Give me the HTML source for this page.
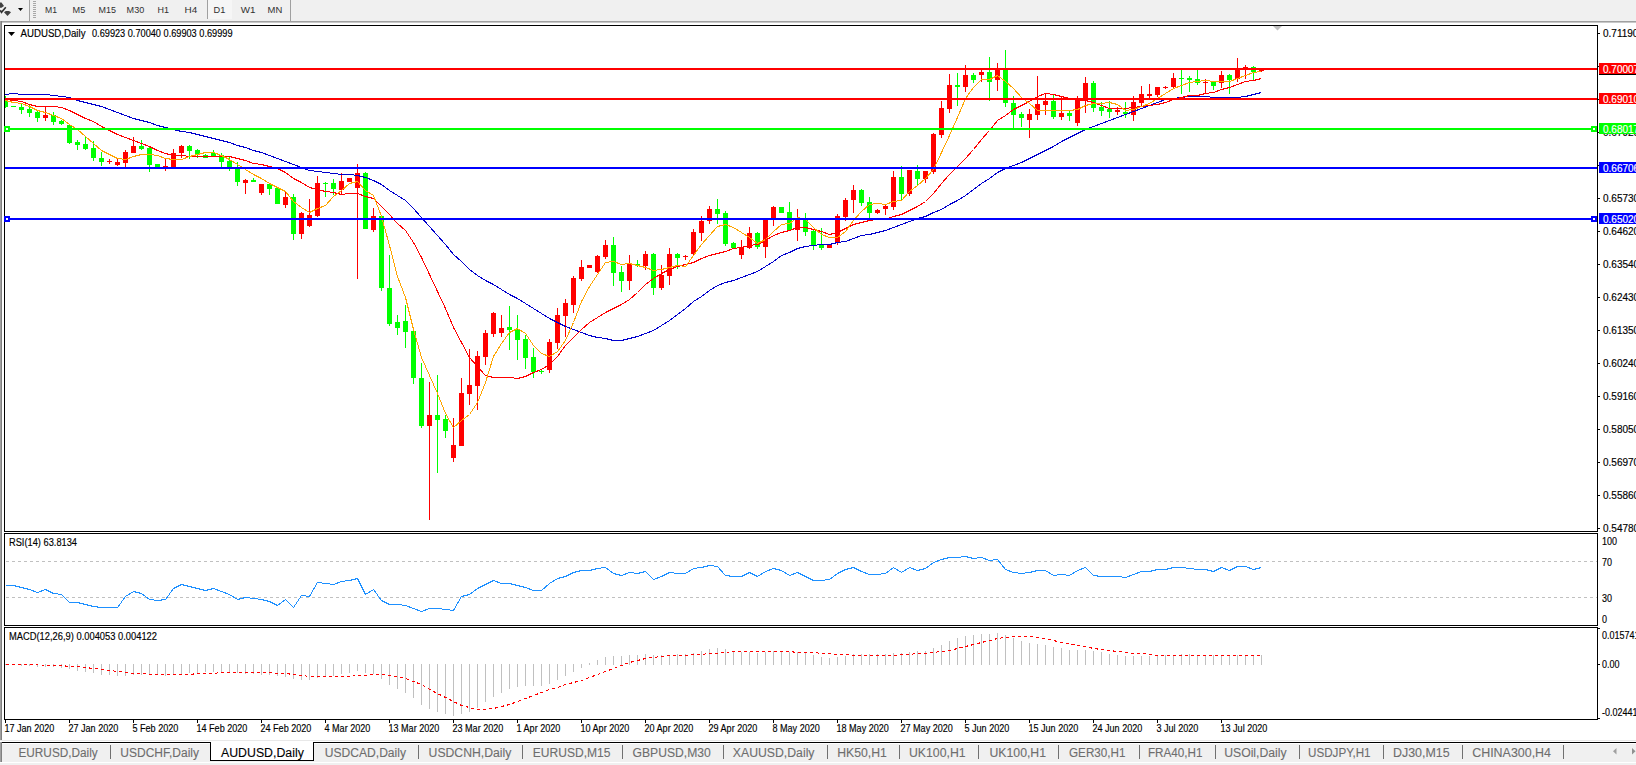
<!DOCTYPE html>
<html><head><meta charset="utf-8"><title>AUDUSD,Daily</title>
<style>html,body{margin:0;padding:0;width:1636px;height:765px;overflow:hidden;background:#f0f0f0;font-family:"Liberation Sans",sans-serif}</style>
</head><body>
<svg width="1636" height="765" viewBox="0 0 1636 765" style="position:absolute;left:0;top:0" shape-rendering="crispEdges"><rect x="0" y="0" width="1636" height="21" fill="#f0f0f0"/><rect x="0" y="21" width="1636" height="1" fill="#a0a0a0"/><rect x="0" y="22" width="1636" height="1" fill="#c8c8c8"/><path d="M0 2.5 L1.5 2.5 L4 6 L1.5 7.7 L0 7.7 Z" fill="#404040" shape-rendering="geometricPrecision"/><path d="M0.2 10.3 L1.5 12.3 L5.8 7.3" fill="none" stroke="#303030" stroke-width="1.6" shape-rendering="geometricPrecision"/><path d="M4 12.3 L5.8 11 L9 11 L11 12.3 L7.5 16 Z" fill="#404040" shape-rendering="geometricPrecision"/><path d="M18 8 L23 8 L20.5 11 Z" fill="#000" shape-rendering="geometricPrecision"/><rect x="29" y="0" width="1" height="21" fill="#a0a0a0"/><rect x="33" y="1" width="3" height="1" fill="#a8a8a8"/><rect x="33" y="3" width="3" height="1" fill="#a8a8a8"/><rect x="33" y="5" width="3" height="1" fill="#a8a8a8"/><rect x="33" y="7" width="3" height="1" fill="#a8a8a8"/><rect x="33" y="9" width="3" height="1" fill="#a8a8a8"/><rect x="33" y="11" width="3" height="1" fill="#a8a8a8"/><rect x="33" y="13" width="3" height="1" fill="#a8a8a8"/><rect x="33" y="15" width="3" height="1" fill="#a8a8a8"/><rect x="33" y="17" width="3" height="1" fill="#a8a8a8"/><rect x="207" y="0" width="1" height="19" fill="#a0a0a0"/><rect x="208" y="0" width="24" height="19" fill="#f6f6f6"/><rect x="290" y="0" width="1" height="21" fill="#a0a0a0"/><text x="45" y="12.9" font-family="'Liberation Sans', sans-serif" font-size="9.5" fill="#303030" textLength="12.0" lengthAdjust="spacingAndGlyphs" shape-rendering="auto">M1</text><text x="72.6" y="12.9" font-family="'Liberation Sans', sans-serif" font-size="9.5" fill="#303030" textLength="12.7" lengthAdjust="spacingAndGlyphs" shape-rendering="auto">M5</text><text x="98.6" y="12.9" font-family="'Liberation Sans', sans-serif" font-size="9.5" fill="#303030" textLength="17.4" lengthAdjust="spacingAndGlyphs" shape-rendering="auto">M15</text><text x="126.6" y="12.9" font-family="'Liberation Sans', sans-serif" font-size="9.5" fill="#303030" textLength="17.6" lengthAdjust="spacingAndGlyphs" shape-rendering="auto">M30</text><text x="157.6" y="12.9" font-family="'Liberation Sans', sans-serif" font-size="9.5" fill="#303030" textLength="11.5" lengthAdjust="spacingAndGlyphs" shape-rendering="auto">H1</text><text x="184.5" y="12.9" font-family="'Liberation Sans', sans-serif" font-size="9.5" fill="#303030" textLength="12.7" lengthAdjust="spacingAndGlyphs" shape-rendering="auto">H4</text><text x="213.5" y="12.9" font-family="'Liberation Sans', sans-serif" font-size="9.5" fill="#303030" textLength="11.8" lengthAdjust="spacingAndGlyphs" shape-rendering="auto">D1</text><text x="240.7" y="12.9" font-family="'Liberation Sans', sans-serif" font-size="9.5" fill="#303030" textLength="14.7" lengthAdjust="spacingAndGlyphs" shape-rendering="auto">W1</text><text x="267.6" y="12.9" font-family="'Liberation Sans', sans-serif" font-size="9.5" fill="#303030" textLength="14.7" lengthAdjust="spacingAndGlyphs" shape-rendering="auto">MN</text><rect x="0" y="23" width="1636" height="718" fill="#ffffff"/><rect x="0" y="21" width="1" height="720" fill="#a0a0a0"/><rect x="1" y="21" width="1" height="720" fill="#808080"/><rect x="4" y="25" width="1594" height="1" fill="#000"/><rect x="4" y="531" width="1594" height="1" fill="#000"/><rect x="4" y="25" width="1" height="507" fill="#000"/><rect x="1597" y="25" width="1" height="507" fill="#000"/><rect x="4" y="533" width="1594" height="1" fill="#000"/><rect x="4" y="625" width="1594" height="1" fill="#000"/><rect x="4" y="533" width="1" height="93" fill="#000"/><rect x="1597" y="533" width="1" height="93" fill="#000"/><rect x="4" y="627" width="1594" height="1" fill="#000"/><rect x="4" y="719" width="1594" height="1" fill="#000"/><rect x="4" y="627" width="1" height="93" fill="#000"/><rect x="1597" y="627" width="1" height="93" fill="#000"/><path d="M1273 26 L1282 26 L1277.5 30.5 Z" fill="#c0c0c0" shape-rendering="geometricPrecision"/><path d="M8 32 L15 32 L11.5 36 Z" fill="#000" shape-rendering="geometricPrecision"/><text x="20.5" y="37.2" font-family="'Liberation Sans', sans-serif" font-size="10" fill="#000" stroke="#000" stroke-width="0.15" textLength="65.0" lengthAdjust="spacingAndGlyphs" shape-rendering="auto">AUDUSD,Daily</text><text x="92" y="37.2" font-family="'Liberation Sans', sans-serif" font-size="10" fill="#000" stroke="#000" stroke-width="0.15" textLength="140.5" lengthAdjust="spacingAndGlyphs" shape-rendering="auto">0.69923 0.70040 0.69903 0.69999</text><defs><clipPath id="cm"><rect x="5" y="26" width="1592" height="505"/></clipPath><clipPath id="cr"><rect x="5" y="534" width="1592" height="91"/></clipPath><clipPath id="cd"><rect x="5" y="628" width="1592" height="91"/></clipPath></defs><g clip-path="url(#cm)"><rect x="5" y="96" width="1" height="12" fill="#00ff00"/><rect x="3" y="100" width="5" height="7" fill="#00ff00"/><rect x="13" y="106" width="1" height="1" fill="#00ff00"/><rect x="11" y="106" width="5" height="1" fill="#00ff00"/><rect x="21" y="103" width="1" height="11" fill="#00ff00"/><rect x="19" y="107" width="5" height="3" fill="#00ff00"/><rect x="29" y="105" width="1" height="12" fill="#00ff00"/><rect x="27" y="109" width="5" height="4" fill="#00ff00"/><rect x="37" y="111" width="1" height="11" fill="#00ff00"/><rect x="35" y="112" width="5" height="6" fill="#00ff00"/><rect x="45" y="106" width="1" height="15" fill="#ff0000"/><rect x="43" y="115" width="5" height="3" fill="#ff0000"/><rect x="53" y="112" width="1" height="13" fill="#00ff00"/><rect x="51" y="115" width="5" height="7" fill="#00ff00"/><rect x="61" y="120" width="1" height="5" fill="#00ff00"/><rect x="59" y="121" width="5" height="3" fill="#00ff00"/><rect x="69" y="125" width="1" height="19" fill="#00ff00"/><rect x="67" y="125" width="5" height="18" fill="#00ff00"/><rect x="77" y="140" width="1" height="10" fill="#00ff00"/><rect x="75" y="142" width="5" height="3" fill="#00ff00"/><rect x="85" y="136" width="1" height="14" fill="#00ff00"/><rect x="83" y="144" width="5" height="5" fill="#00ff00"/><rect x="93" y="141" width="1" height="20" fill="#00ff00"/><rect x="91" y="148" width="5" height="10" fill="#00ff00"/><rect x="101" y="152" width="1" height="14" fill="#00ff00"/><rect x="99" y="158" width="5" height="4" fill="#00ff00"/><rect x="109" y="159" width="1" height="5" fill="#ff0000"/><rect x="107" y="161" width="5" height="1" fill="#ff0000"/><rect x="117" y="158" width="1" height="8" fill="#ff0000"/><rect x="115" y="162" width="5" height="3" fill="#ff0000"/><rect x="125" y="150" width="1" height="17" fill="#ff0000"/><rect x="123" y="152" width="5" height="11" fill="#ff0000"/><rect x="133" y="137" width="1" height="16" fill="#ff0000"/><rect x="131" y="146" width="5" height="7" fill="#ff0000"/><rect x="141" y="140" width="1" height="10" fill="#00ff00"/><rect x="139" y="146" width="5" height="3" fill="#00ff00"/><rect x="149" y="147" width="1" height="25" fill="#00ff00"/><rect x="147" y="148" width="5" height="17" fill="#00ff00"/><rect x="157" y="164" width="1" height="4" fill="#00ff00"/><rect x="155" y="164" width="5" height="3" fill="#00ff00"/><rect x="165" y="159" width="1" height="12" fill="#ff0000"/><rect x="163" y="166" width="5" height="1" fill="#ff0000"/><rect x="173" y="149" width="1" height="18" fill="#ff0000"/><rect x="171" y="153" width="5" height="14" fill="#ff0000"/><rect x="181" y="145" width="1" height="13" fill="#ff0000"/><rect x="179" y="146" width="5" height="7" fill="#ff0000"/><rect x="189" y="145" width="1" height="14" fill="#00ff00"/><rect x="187" y="146" width="5" height="5" fill="#00ff00"/><rect x="197" y="149" width="1" height="9" fill="#00ff00"/><rect x="195" y="150" width="5" height="5" fill="#00ff00"/><rect x="205" y="154" width="1" height="4" fill="#00ff00"/><rect x="203" y="155" width="5" height="3" fill="#00ff00"/><rect x="213" y="150" width="1" height="6" fill="#00ff00"/><rect x="211" y="153" width="5" height="3" fill="#00ff00"/><rect x="221" y="153" width="1" height="14" fill="#00ff00"/><rect x="219" y="155" width="5" height="7" fill="#00ff00"/><rect x="229" y="157" width="1" height="14" fill="#00ff00"/><rect x="227" y="161" width="5" height="6" fill="#00ff00"/><rect x="237" y="162" width="1" height="24" fill="#00ff00"/><rect x="235" y="168" width="5" height="14" fill="#00ff00"/><rect x="245" y="179" width="1" height="15" fill="#ff0000"/><rect x="243" y="180" width="5" height="3" fill="#ff0000"/><rect x="253" y="178" width="1" height="4" fill="#00ff00"/><rect x="251" y="180" width="5" height="2" fill="#00ff00"/><rect x="261" y="184" width="1" height="11" fill="#ff0000"/><rect x="259" y="184" width="5" height="9" fill="#ff0000"/><rect x="269" y="184" width="1" height="11" fill="#00ff00"/><rect x="267" y="184" width="5" height="5" fill="#00ff00"/><rect x="277" y="188" width="1" height="16" fill="#00ff00"/><rect x="275" y="188" width="5" height="16" fill="#00ff00"/><rect x="285" y="192" width="1" height="16" fill="#ff0000"/><rect x="283" y="197" width="5" height="8" fill="#ff0000"/><rect x="293" y="194" width="1" height="46" fill="#00ff00"/><rect x="291" y="197" width="5" height="37" fill="#00ff00"/><rect x="301" y="212" width="1" height="27" fill="#ff0000"/><rect x="299" y="213" width="5" height="21" fill="#ff0000"/><rect x="309" y="199" width="1" height="28" fill="#ff0000"/><rect x="307" y="215" width="5" height="11" fill="#ff0000"/><rect x="317" y="176" width="1" height="41" fill="#ff0000"/><rect x="315" y="183" width="5" height="33" fill="#ff0000"/><rect x="325" y="182" width="1" height="15" fill="#00ff00"/><rect x="323" y="183" width="5" height="1" fill="#00ff00"/><rect x="333" y="179" width="1" height="16" fill="#00ff00"/><rect x="331" y="183" width="5" height="6" fill="#00ff00"/><rect x="341" y="173" width="1" height="21" fill="#ff0000"/><rect x="339" y="181" width="5" height="9" fill="#ff0000"/><rect x="349" y="178" width="1" height="4" fill="#ff0000"/><rect x="347" y="178" width="5" height="4" fill="#ff0000"/><rect x="357" y="164" width="1" height="115" fill="#ff0000"/><rect x="355" y="173" width="5" height="15" fill="#ff0000"/><rect x="365" y="172" width="1" height="57" fill="#00ff00"/><rect x="363" y="173" width="5" height="56" fill="#00ff00"/><rect x="373" y="208" width="1" height="24" fill="#ff0000"/><rect x="371" y="216" width="5" height="14" fill="#ff0000"/><rect x="381" y="216" width="1" height="75" fill="#00ff00"/><rect x="379" y="216" width="5" height="72" fill="#00ff00"/><rect x="389" y="255" width="1" height="71" fill="#00ff00"/><rect x="387" y="288" width="5" height="36" fill="#00ff00"/><rect x="397" y="315" width="1" height="20" fill="#00ff00"/><rect x="395" y="322" width="5" height="6" fill="#00ff00"/><rect x="405" y="305" width="1" height="43" fill="#00ff00"/><rect x="403" y="321" width="5" height="11" fill="#00ff00"/><rect x="413" y="327" width="1" height="57" fill="#00ff00"/><rect x="411" y="331" width="5" height="47" fill="#00ff00"/><rect x="421" y="363" width="1" height="65" fill="#00ff00"/><rect x="419" y="378" width="5" height="48" fill="#00ff00"/><rect x="429" y="382" width="1" height="138" fill="#ff0000"/><rect x="427" y="415" width="5" height="11" fill="#ff0000"/><rect x="437" y="375" width="1" height="98" fill="#00ff00"/><rect x="435" y="415" width="5" height="5" fill="#00ff00"/><rect x="445" y="415" width="1" height="23" fill="#00ff00"/><rect x="443" y="419" width="5" height="12" fill="#00ff00"/><rect x="453" y="418" width="1" height="44" fill="#ff0000"/><rect x="451" y="445" width="5" height="13" fill="#ff0000"/><rect x="461" y="378" width="1" height="68" fill="#ff0000"/><rect x="459" y="393" width="5" height="53" fill="#ff0000"/><rect x="469" y="349" width="1" height="56" fill="#ff0000"/><rect x="467" y="385" width="5" height="9" fill="#ff0000"/><rect x="477" y="351" width="1" height="59" fill="#ff0000"/><rect x="475" y="356" width="5" height="30" fill="#ff0000"/><rect x="485" y="330" width="1" height="35" fill="#ff0000"/><rect x="483" y="333" width="5" height="24" fill="#ff0000"/><rect x="493" y="312" width="1" height="25" fill="#ff0000"/><rect x="491" y="313" width="5" height="21" fill="#ff0000"/><rect x="501" y="315" width="1" height="22" fill="#ff0000"/><rect x="499" y="328" width="5" height="5" fill="#ff0000"/><rect x="509" y="306" width="1" height="44" fill="#00ff00"/><rect x="507" y="327" width="5" height="3" fill="#00ff00"/><rect x="517" y="315" width="1" height="45" fill="#00ff00"/><rect x="515" y="330" width="5" height="10" fill="#00ff00"/><rect x="525" y="335" width="1" height="34" fill="#00ff00"/><rect x="523" y="339" width="5" height="19" fill="#00ff00"/><rect x="533" y="348" width="1" height="30" fill="#00ff00"/><rect x="531" y="357" width="5" height="15" fill="#00ff00"/><rect x="541" y="370" width="1" height="4" fill="#00ff00"/><rect x="539" y="371" width="5" height="1" fill="#00ff00"/><rect x="549" y="339" width="1" height="34" fill="#ff0000"/><rect x="547" y="342" width="5" height="28" fill="#ff0000"/><rect x="557" y="308" width="1" height="41" fill="#ff0000"/><rect x="555" y="315" width="5" height="28" fill="#ff0000"/><rect x="565" y="299" width="1" height="38" fill="#ff0000"/><rect x="563" y="303" width="5" height="13" fill="#ff0000"/><rect x="573" y="276" width="1" height="37" fill="#ff0000"/><rect x="571" y="278" width="5" height="27" fill="#ff0000"/><rect x="581" y="260" width="1" height="21" fill="#ff0000"/><rect x="579" y="267" width="5" height="12" fill="#ff0000"/><rect x="589" y="265" width="1" height="3" fill="#ff0000"/><rect x="587" y="265" width="5" height="3" fill="#ff0000"/><rect x="597" y="255" width="1" height="18" fill="#ff0000"/><rect x="595" y="256" width="5" height="16" fill="#ff0000"/><rect x="605" y="240" width="1" height="19" fill="#ff0000"/><rect x="603" y="245" width="5" height="12" fill="#ff0000"/><rect x="613" y="237" width="1" height="49" fill="#00ff00"/><rect x="611" y="245" width="5" height="28" fill="#00ff00"/><rect x="621" y="266" width="1" height="26" fill="#00ff00"/><rect x="619" y="272" width="5" height="9" fill="#00ff00"/><rect x="629" y="255" width="1" height="35" fill="#ff0000"/><rect x="627" y="264" width="5" height="17" fill="#ff0000"/><rect x="637" y="260" width="1" height="7" fill="#00ff00"/><rect x="635" y="264" width="5" height="1" fill="#00ff00"/><rect x="645" y="251" width="1" height="19" fill="#ff0000"/><rect x="643" y="254" width="5" height="12" fill="#ff0000"/><rect x="653" y="253" width="1" height="42" fill="#00ff00"/><rect x="651" y="254" width="5" height="34" fill="#00ff00"/><rect x="661" y="265" width="1" height="25" fill="#ff0000"/><rect x="659" y="275" width="5" height="13" fill="#ff0000"/><rect x="669" y="248" width="1" height="37" fill="#ff0000"/><rect x="667" y="254" width="5" height="22" fill="#ff0000"/><rect x="677" y="253" width="1" height="16" fill="#00ff00"/><rect x="675" y="254" width="5" height="4" fill="#00ff00"/><rect x="685" y="255" width="1" height="5" fill="#ff0000"/><rect x="683" y="256" width="5" height="1" fill="#ff0000"/><rect x="693" y="229" width="1" height="26" fill="#ff0000"/><rect x="691" y="232" width="5" height="22" fill="#ff0000"/><rect x="701" y="216" width="1" height="25" fill="#ff0000"/><rect x="699" y="221" width="5" height="12" fill="#ff0000"/><rect x="709" y="206" width="1" height="18" fill="#ff0000"/><rect x="707" y="209" width="5" height="12" fill="#ff0000"/><rect x="717" y="199" width="1" height="25" fill="#00ff00"/><rect x="715" y="209" width="5" height="5" fill="#00ff00"/><rect x="725" y="211" width="1" height="35" fill="#00ff00"/><rect x="723" y="213" width="5" height="31" fill="#00ff00"/><rect x="733" y="242" width="1" height="6" fill="#00ff00"/><rect x="731" y="243" width="5" height="5" fill="#00ff00"/><rect x="741" y="240" width="1" height="19" fill="#ff0000"/><rect x="739" y="247" width="5" height="8" fill="#ff0000"/><rect x="749" y="227" width="1" height="22" fill="#ff0000"/><rect x="747" y="233" width="5" height="15" fill="#ff0000"/><rect x="757" y="232" width="1" height="17" fill="#00ff00"/><rect x="755" y="233" width="5" height="14" fill="#00ff00"/><rect x="765" y="219" width="1" height="39" fill="#ff0000"/><rect x="763" y="220" width="5" height="27" fill="#ff0000"/><rect x="773" y="206" width="1" height="20" fill="#ff0000"/><rect x="771" y="207" width="5" height="13" fill="#ff0000"/><rect x="781" y="207" width="1" height="6" fill="#00ff00"/><rect x="779" y="207" width="5" height="6" fill="#00ff00"/><rect x="789" y="202" width="1" height="29" fill="#00ff00"/><rect x="787" y="212" width="5" height="18" fill="#00ff00"/><rect x="797" y="209" width="1" height="32" fill="#ff0000"/><rect x="795" y="218" width="5" height="12" fill="#ff0000"/><rect x="805" y="213" width="1" height="23" fill="#00ff00"/><rect x="803" y="220" width="5" height="12" fill="#00ff00"/><rect x="813" y="229" width="1" height="21" fill="#00ff00"/><rect x="811" y="231" width="5" height="15" fill="#00ff00"/><rect x="821" y="228" width="1" height="22" fill="#00ff00"/><rect x="819" y="244" width="5" height="4" fill="#00ff00"/><rect x="829" y="245" width="1" height="3" fill="#ff0000"/><rect x="827" y="245" width="5" height="3" fill="#ff0000"/><rect x="837" y="214" width="1" height="31" fill="#ff0000"/><rect x="835" y="216" width="5" height="27" fill="#ff0000"/><rect x="845" y="198" width="1" height="23" fill="#ff0000"/><rect x="843" y="200" width="5" height="17" fill="#ff0000"/><rect x="853" y="185" width="1" height="28" fill="#ff0000"/><rect x="851" y="190" width="5" height="10" fill="#ff0000"/><rect x="861" y="189" width="1" height="17" fill="#00ff00"/><rect x="859" y="190" width="5" height="13" fill="#00ff00"/><rect x="869" y="197" width="1" height="21" fill="#00ff00"/><rect x="867" y="202" width="5" height="11" fill="#00ff00"/><rect x="877" y="209" width="1" height="5" fill="#ff0000"/><rect x="875" y="210" width="5" height="3" fill="#ff0000"/><rect x="885" y="205" width="1" height="10" fill="#ff0000"/><rect x="883" y="206" width="5" height="3" fill="#ff0000"/><rect x="893" y="171" width="1" height="39" fill="#ff0000"/><rect x="891" y="177" width="5" height="30" fill="#ff0000"/><rect x="901" y="166" width="1" height="34" fill="#00ff00"/><rect x="899" y="177" width="5" height="17" fill="#00ff00"/><rect x="909" y="170" width="1" height="26" fill="#ff0000"/><rect x="907" y="170" width="5" height="24" fill="#ff0000"/><rect x="917" y="165" width="1" height="20" fill="#00ff00"/><rect x="915" y="171" width="5" height="8" fill="#00ff00"/><rect x="925" y="171" width="1" height="12" fill="#ff0000"/><rect x="923" y="171" width="5" height="8" fill="#ff0000"/><rect x="933" y="133" width="1" height="41" fill="#ff0000"/><rect x="931" y="134" width="5" height="38" fill="#ff0000"/><rect x="941" y="101" width="1" height="37" fill="#ff0000"/><rect x="939" y="108" width="5" height="27" fill="#ff0000"/><rect x="949" y="74" width="1" height="39" fill="#ff0000"/><rect x="947" y="85" width="5" height="24" fill="#ff0000"/><rect x="957" y="73" width="1" height="33" fill="#00ff00"/><rect x="955" y="85" width="5" height="2" fill="#00ff00"/><rect x="965" y="65" width="1" height="27" fill="#ff0000"/><rect x="963" y="75" width="5" height="12" fill="#ff0000"/><rect x="973" y="73" width="1" height="10" fill="#00ff00"/><rect x="971" y="75" width="5" height="5" fill="#00ff00"/><rect x="981" y="70" width="1" height="12" fill="#ff0000"/><rect x="979" y="72" width="5" height="3" fill="#ff0000"/><rect x="989" y="57" width="1" height="44" fill="#00ff00"/><rect x="987" y="72" width="5" height="10" fill="#00ff00"/><rect x="997" y="63" width="1" height="28" fill="#ff0000"/><rect x="995" y="70" width="5" height="10" fill="#ff0000"/><rect x="1005" y="50" width="1" height="57" fill="#00ff00"/><rect x="1003" y="70" width="5" height="33" fill="#00ff00"/><rect x="1013" y="96" width="1" height="34" fill="#00ff00"/><rect x="1011" y="103" width="5" height="12" fill="#00ff00"/><rect x="1021" y="112" width="1" height="15" fill="#00ff00"/><rect x="1019" y="114" width="5" height="4" fill="#00ff00"/><rect x="1029" y="109" width="1" height="29" fill="#ff0000"/><rect x="1027" y="114" width="5" height="6" fill="#ff0000"/><rect x="1037" y="76" width="1" height="44" fill="#ff0000"/><rect x="1035" y="104" width="5" height="11" fill="#ff0000"/><rect x="1045" y="94" width="1" height="21" fill="#ff0000"/><rect x="1043" y="101" width="5" height="4" fill="#ff0000"/><rect x="1053" y="95" width="1" height="24" fill="#00ff00"/><rect x="1051" y="101" width="5" height="16" fill="#00ff00"/><rect x="1061" y="97" width="1" height="23" fill="#ff0000"/><rect x="1059" y="113" width="5" height="4" fill="#ff0000"/><rect x="1069" y="111" width="1" height="10" fill="#00ff00"/><rect x="1067" y="113" width="5" height="3" fill="#00ff00"/><rect x="1077" y="96" width="1" height="30" fill="#ff0000"/><rect x="1075" y="98" width="5" height="25" fill="#ff0000"/><rect x="1085" y="77" width="1" height="36" fill="#ff0000"/><rect x="1083" y="83" width="5" height="17" fill="#ff0000"/><rect x="1093" y="81" width="1" height="31" fill="#00ff00"/><rect x="1091" y="83" width="5" height="25" fill="#00ff00"/><rect x="1101" y="102" width="1" height="14" fill="#00ff00"/><rect x="1099" y="107" width="5" height="4" fill="#00ff00"/><rect x="1109" y="101" width="1" height="17" fill="#00ff00"/><rect x="1107" y="109" width="5" height="3" fill="#00ff00"/><rect x="1117" y="107" width="1" height="8" fill="#ff0000"/><rect x="1115" y="110" width="5" height="2" fill="#ff0000"/><rect x="1125" y="102" width="1" height="16" fill="#00ff00"/><rect x="1123" y="112" width="5" height="2" fill="#00ff00"/><rect x="1133" y="96" width="1" height="25" fill="#ff0000"/><rect x="1131" y="102" width="5" height="13" fill="#ff0000"/><rect x="1141" y="86" width="1" height="20" fill="#ff0000"/><rect x="1139" y="94" width="5" height="9" fill="#ff0000"/><rect x="1149" y="84" width="1" height="14" fill="#ff0000"/><rect x="1147" y="94" width="5" height="2" fill="#ff0000"/><rect x="1157" y="87" width="1" height="10" fill="#ff0000"/><rect x="1155" y="87" width="5" height="8" fill="#ff0000"/><rect x="1165" y="86" width="1" height="3" fill="#ff0000"/><rect x="1163" y="87" width="5" height="1" fill="#ff0000"/><rect x="1173" y="73" width="1" height="15" fill="#ff0000"/><rect x="1171" y="78" width="5" height="9" fill="#ff0000"/><rect x="1181" y="70" width="1" height="24" fill="#00ff00"/><rect x="1179" y="78" width="5" height="1" fill="#00ff00"/><rect x="1189" y="76" width="1" height="16" fill="#00ff00"/><rect x="1187" y="78" width="5" height="2" fill="#00ff00"/><rect x="1197" y="70" width="1" height="15" fill="#00ff00"/><rect x="1195" y="79" width="5" height="4" fill="#00ff00"/><rect x="1205" y="79" width="1" height="14" fill="#ff0000"/><rect x="1203" y="82" width="5" height="1" fill="#ff0000"/><rect x="1213" y="81" width="1" height="9" fill="#00ff00"/><rect x="1211" y="82" width="5" height="4" fill="#00ff00"/><rect x="1221" y="71" width="1" height="17" fill="#ff0000"/><rect x="1219" y="75" width="5" height="8" fill="#ff0000"/><rect x="1229" y="74" width="1" height="20" fill="#00ff00"/><rect x="1227" y="75" width="5" height="5" fill="#00ff00"/><rect x="1237" y="58" width="1" height="24" fill="#ff0000"/><rect x="1235" y="70" width="5" height="9" fill="#ff0000"/><rect x="1245" y="65" width="1" height="14" fill="#ff0000"/><rect x="1243" y="67" width="5" height="1" fill="#ff0000"/><rect x="1253" y="66" width="1" height="15" fill="#00ff00"/><rect x="1251" y="67" width="5" height="5" fill="#00ff00"/><rect x="1261" y="68" width="1" height="4" fill="#ff0000"/><rect x="1259" y="69" width="5" height="2" fill="#ff0000"/><polyline points="5.5,94.5 13.5,93.5 21.5,94.5 29.5,94.5 37.5,94.5 45.5,94.5 53.5,95.5 61.5,96.5 69.5,97.5 77.5,100.5 85.5,102.5 93.5,104.5 101.5,106.5 109.5,109.5 117.5,112.5 125.5,115.5 133.5,118.5 141.5,120.5 149.5,122.5 157.5,125.5 165.5,127.5 173.5,129.5 181.5,131.5 189.5,132.5 197.5,134.5 205.5,136.5 213.5,138.5 221.5,140.5 229.5,142.5 237.5,145.5 245.5,147.5 253.5,150.5 261.5,152.5 269.5,155.5 277.5,158.5 285.5,161.5 293.5,164.5 301.5,167.5 309.5,170.5 317.5,171.5 325.5,172.5 333.5,173.5 341.5,174.5 349.5,174.5 357.5,175.5 365.5,177.5 373.5,180.5 381.5,184.5 389.5,190.5 397.5,195.5 405.5,200.5 413.5,208.5 421.5,217.5 429.5,226.5 437.5,235.5 445.5,244.5 453.5,254.5 461.5,261.5 469.5,269.5 477.5,275.5 485.5,280.5 493.5,284.5 501.5,289.5 509.5,294.5 517.5,298.5 525.5,303.5 533.5,308.5 541.5,313.5 549.5,318.5 557.5,322.5 565.5,326.5 573.5,329.5 581.5,332.5 589.5,335.5 597.5,337.5 605.5,338.5 613.5,340.5 621.5,340.5 629.5,338.5 637.5,336.5 645.5,333.5 653.5,330.5 661.5,325.5 669.5,320.5 677.5,314.5 685.5,308.5 693.5,301.5 701.5,296.5 709.5,290.5 717.5,285.5 725.5,282.5 733.5,280.5 741.5,277.5 749.5,274.5 757.5,271.5 765.5,266.5 773.5,261.5 781.5,255.5 789.5,252.5 797.5,248.5 805.5,246.5 813.5,245.5 821.5,244.5 829.5,244.5 837.5,242.5 845.5,241.5 853.5,238.5 861.5,235.5 869.5,234.5 877.5,232.5 885.5,230.5 893.5,227.5 901.5,224.5 909.5,221.5 917.5,218.5 925.5,216.5 933.5,212.5 941.5,209.5 949.5,204.5 957.5,200.5 965.5,195.5 973.5,189.5 981.5,183.5 989.5,178.5 997.5,172.5 1005.5,168.5 1013.5,165.5 1021.5,162.5 1029.5,158.5 1037.5,154.5 1045.5,150.5 1053.5,146.5 1061.5,141.5 1069.5,137.5 1077.5,133.5 1085.5,129.5 1093.5,126.5 1101.5,123.5 1109.5,120.5 1117.5,117.5 1125.5,114.5 1133.5,111.5 1141.5,108.5 1149.5,105.5 1157.5,102.5 1165.5,99.5 1173.5,98.5 1181.5,97.5 1189.5,96.5 1197.5,96.5 1205.5,96.5 1213.5,97.5 1221.5,97.5 1229.5,97.5 1237.5,97.5 1245.5,96.5 1253.5,94.5 1261.5,92.5" fill="none" stroke="#0000cd" stroke-width="1" /><polyline points="5.5,99.5 13.5,100.5 21.5,101.5 29.5,104.5 37.5,106.5 45.5,106.5 53.5,106.5 61.5,107.5 69.5,110.5 77.5,114.5 85.5,118.5 93.5,121.5 101.5,126.5 109.5,130.5 117.5,134.5 125.5,137.5 133.5,140.5 141.5,143.5 149.5,146.5 157.5,150.5 165.5,153.5 173.5,155.5 181.5,155.5 189.5,156.5 197.5,156.5 205.5,156.5 213.5,156.5 221.5,156.5 229.5,156.5 237.5,158.5 245.5,160.5 253.5,163.5 261.5,164.5 269.5,166.5 277.5,168.5 285.5,172.5 293.5,178.5 301.5,182.5 309.5,187.5 317.5,189.5 325.5,191.5 333.5,192.5 341.5,194.5 349.5,193.5 357.5,193.5 365.5,196.5 373.5,198.5 381.5,206.5 389.5,214.5 397.5,223.5 405.5,230.5 413.5,242.5 421.5,257.5 429.5,274.5 437.5,291.5 445.5,308.5 453.5,327.5 461.5,342.5 469.5,357.5 477.5,366.5 485.5,375.5 493.5,377.5 501.5,377.5 509.5,377.5 517.5,378.5 525.5,376.5 533.5,372.5 541.5,369.5 549.5,364.5 557.5,356.5 565.5,345.5 573.5,337.5 581.5,329.5 589.5,322.5 597.5,317.5 605.5,312.5 613.5,308.5 621.5,304.5 629.5,299.5 637.5,292.5 645.5,284.5 653.5,278.5 661.5,273.5 669.5,269.5 677.5,266.5 685.5,264.5 693.5,262.5 701.5,258.5 709.5,255.5 717.5,253.5 725.5,251.5 733.5,248.5 741.5,247.5 749.5,245.5 757.5,244.5 765.5,240.5 773.5,235.5 781.5,232.5 789.5,230.5 797.5,227.5 805.5,227.5 813.5,229.5 821.5,231.5 829.5,234.5 837.5,232.5 845.5,228.5 853.5,224.5 861.5,222.5 869.5,220.5 877.5,219.5 885.5,219.5 893.5,216.5 901.5,214.5 909.5,210.5 917.5,206.5 925.5,201.5 933.5,193.5 941.5,183.5 949.5,174.5 957.5,166.5 965.5,158.5 973.5,149.5 981.5,139.5 989.5,130.5 997.5,120.5 1005.5,115.5 1013.5,109.5 1021.5,105.5 1029.5,101.5 1037.5,96.5 1045.5,93.5 1053.5,94.5 1061.5,96.5 1069.5,98.5 1077.5,100.5 1085.5,100.5 1093.5,102.5 1101.5,105.5 1109.5,108.5 1117.5,108.5 1125.5,108.5 1133.5,107.5 1141.5,106.5 1149.5,105.5 1157.5,104.5 1165.5,102.5 1173.5,99.5 1181.5,97.5 1189.5,95.5 1197.5,95.5 1205.5,93.5 1213.5,92.5 1221.5,89.5 1229.5,87.5 1237.5,84.5 1245.5,81.5 1253.5,80.5 1261.5,78.5" fill="none" stroke="#ff0000" stroke-width="1" /><polyline points="5.5,100.5 13.5,102.5 21.5,103.5 29.5,106.5 37.5,110.5 45.5,112.5 53.5,115.5 61.5,118.5 69.5,124.5 77.5,129.5 85.5,136.5 93.5,143.5 101.5,150.5 109.5,154.5 117.5,158.5 125.5,159.5 133.5,156.5 141.5,154.5 149.5,154.5 157.5,155.5 165.5,158.5 173.5,159.5 181.5,159.5 189.5,156.5 197.5,154.5 205.5,152.5 213.5,152.5 221.5,155.5 229.5,159.5 237.5,164.5 245.5,169.5 253.5,174.5 261.5,178.5 269.5,183.5 277.5,187.5 285.5,191.5 293.5,201.5 301.5,207.5 309.5,212.5 317.5,208.5 325.5,205.5 333.5,196.5 341.5,190.5 349.5,183.5 357.5,181.5 365.5,190.5 373.5,195.5 381.5,216.5 389.5,245.5 397.5,276.5 405.5,297.5 413.5,329.5 421.5,357.5 429.5,375.5 437.5,393.5 445.5,413.5 453.5,427.5 461.5,420.5 469.5,414.5 477.5,402.5 485.5,382.5 493.5,356.5 501.5,343.5 509.5,332.5 517.5,328.5 525.5,333.5 533.5,345.5 541.5,353.5 549.5,356.5 557.5,351.5 565.5,340.5 573.5,322.5 581.5,301.5 589.5,286.5 597.5,274.5 605.5,262.5 613.5,261.5 621.5,264.5 629.5,263.5 637.5,265.5 645.5,267.5 653.5,270.5 661.5,269.5 669.5,267.5 677.5,265.5 685.5,266.5 693.5,255.5 701.5,244.5 709.5,235.5 717.5,226.5 725.5,224.5 733.5,227.5 741.5,232.5 749.5,237.5 757.5,243.5 765.5,239.5 773.5,231.5 781.5,224.5 789.5,223.5 797.5,217.5 805.5,219.5 813.5,227.5 821.5,234.5 829.5,237.5 837.5,237.5 845.5,231.5 853.5,220.5 861.5,211.5 869.5,204.5 877.5,203.5 885.5,204.5 893.5,201.5 901.5,200.5 909.5,191.5 917.5,185.5 925.5,178.5 933.5,169.5 941.5,152.5 949.5,135.5 957.5,117.5 965.5,98.5 973.5,87.5 981.5,79.5 989.5,79.5 997.5,75.5 1005.5,81.5 1013.5,88.5 1021.5,97.5 1029.5,103.5 1037.5,110.5 1045.5,110.5 1053.5,110.5 1061.5,110.5 1069.5,110.5 1077.5,109.5 1085.5,105.5 1093.5,103.5 1101.5,103.5 1109.5,102.5 1117.5,104.5 1125.5,110.5 1133.5,109.5 1141.5,106.5 1149.5,103.5 1157.5,98.5 1165.5,93.5 1173.5,88.5 1181.5,85.5 1189.5,82.5 1197.5,81.5 1205.5,80.5 1213.5,81.5 1221.5,81.5 1229.5,81.5 1237.5,78.5 1245.5,75.5 1253.5,72.5 1261.5,71.5" fill="none" stroke="#ffa500" stroke-width="1" /></g><rect x="5" y="68" width="1592" height="2" fill="#ff0000"/><rect x="5" y="98" width="1592" height="2" fill="#ff0000"/><rect x="5" y="128" width="1592" height="2" fill="#00ff00"/><rect x="5" y="167" width="1592" height="2" fill="#0000ff"/><rect x="5" y="218" width="1592" height="2" fill="#0000ff"/><rect x="4" y="126" width="6" height="6" fill="#00ff00"/><rect x="6" y="128" width="2" height="2" fill="#fff"/><rect x="1591" y="126" width="6" height="6" fill="#00ff00"/><rect x="1593" y="128" width="2" height="2" fill="#fff"/><rect x="4" y="216" width="6" height="6" fill="#0000ff"/><rect x="6" y="218" width="2" height="2" fill="#fff"/><rect x="1591" y="216" width="6" height="6" fill="#0000ff"/><rect x="1593" y="218" width="2" height="2" fill="#fff"/><rect x="1598" y="33" width="2" height="1" fill="#000"/><text x="1603" y="36.6" font-family="'Liberation Sans', sans-serif" font-size="10" fill="#000" stroke="#000" stroke-width="0.15" shape-rendering="auto">0.71190</text><rect x="1598" y="66" width="2" height="1" fill="#000"/><rect x="1598" y="99" width="2" height="1" fill="#000"/><rect x="1598" y="132" width="2" height="1" fill="#000"/><text x="1603" y="135.6" font-family="'Liberation Sans', sans-serif" font-size="10" fill="#000" stroke="#000" stroke-width="0.15" shape-rendering="auto">0.67920</text><rect x="1598" y="165" width="2" height="1" fill="#000"/><rect x="1598" y="198" width="2" height="1" fill="#000"/><text x="1603" y="201.6" font-family="'Liberation Sans', sans-serif" font-size="10" fill="#000" stroke="#000" stroke-width="0.15" shape-rendering="auto">0.65730</text><rect x="1598" y="231" width="2" height="1" fill="#000"/><text x="1603" y="234.6" font-family="'Liberation Sans', sans-serif" font-size="10" fill="#000" stroke="#000" stroke-width="0.15" shape-rendering="auto">0.64620</text><rect x="1598" y="264" width="2" height="1" fill="#000"/><text x="1603" y="267.6" font-family="'Liberation Sans', sans-serif" font-size="10" fill="#000" stroke="#000" stroke-width="0.15" shape-rendering="auto">0.63540</text><rect x="1598" y="297" width="2" height="1" fill="#000"/><text x="1603" y="300.6" font-family="'Liberation Sans', sans-serif" font-size="10" fill="#000" stroke="#000" stroke-width="0.15" shape-rendering="auto">0.62430</text><rect x="1598" y="330" width="2" height="1" fill="#000"/><text x="1603" y="333.6" font-family="'Liberation Sans', sans-serif" font-size="10" fill="#000" stroke="#000" stroke-width="0.15" shape-rendering="auto">0.61350</text><rect x="1598" y="363" width="2" height="1" fill="#000"/><text x="1603" y="366.6" font-family="'Liberation Sans', sans-serif" font-size="10" fill="#000" stroke="#000" stroke-width="0.15" shape-rendering="auto">0.60240</text><rect x="1598" y="396" width="2" height="1" fill="#000"/><text x="1603" y="399.6" font-family="'Liberation Sans', sans-serif" font-size="10" fill="#000" stroke="#000" stroke-width="0.15" shape-rendering="auto">0.59160</text><rect x="1598" y="429" width="2" height="1" fill="#000"/><text x="1603" y="432.6" font-family="'Liberation Sans', sans-serif" font-size="10" fill="#000" stroke="#000" stroke-width="0.15" shape-rendering="auto">0.58050</text><rect x="1598" y="462" width="2" height="1" fill="#000"/><text x="1603" y="465.6" font-family="'Liberation Sans', sans-serif" font-size="10" fill="#000" stroke="#000" stroke-width="0.15" shape-rendering="auto">0.56970</text><rect x="1598" y="495" width="2" height="1" fill="#000"/><text x="1603" y="498.6" font-family="'Liberation Sans', sans-serif" font-size="10" fill="#000" stroke="#000" stroke-width="0.15" shape-rendering="auto">0.55860</text><rect x="1598" y="528" width="2" height="1" fill="#000"/><text x="1603" y="531.6" font-family="'Liberation Sans', sans-serif" font-size="10" fill="#000" stroke="#000" stroke-width="0.15" shape-rendering="auto">0.54780</text><rect x="1599" y="63" width="37" height="11" fill="#ff0000"/><text x="1603" y="72.6" font-family="'Liberation Sans', sans-serif" font-size="10" fill="#fff" stroke="#fff" stroke-width="0.15" shape-rendering="auto">0.70007</text><rect x="1599" y="93" width="37" height="11" fill="#ff0000"/><text x="1603" y="102.6" font-family="'Liberation Sans', sans-serif" font-size="10" fill="#fff" stroke="#fff" stroke-width="0.15" shape-rendering="auto">0.69010</text><rect x="1599" y="123" width="37" height="11" fill="#00ff00"/><text x="1603" y="132.6" font-family="'Liberation Sans', sans-serif" font-size="10" fill="#fff" stroke="#fff" stroke-width="0.15" shape-rendering="auto">0.68017</text><rect x="1599" y="162" width="37" height="11" fill="#0000ff"/><text x="1603" y="171.6" font-family="'Liberation Sans', sans-serif" font-size="10" fill="#fff" stroke="#fff" stroke-width="0.15" shape-rendering="auto">0.66706</text><rect x="1599" y="213" width="37" height="11" fill="#0000ff"/><text x="1603" y="222.6" font-family="'Liberation Sans', sans-serif" font-size="10" fill="#fff" stroke="#fff" stroke-width="0.15" shape-rendering="auto">0.65020</text><rect x="1599" y="74" width="37" height="1" fill="#000"/><text x="9" y="545.9" font-family="'Liberation Sans', sans-serif" font-size="10" fill="#000" stroke="#000" stroke-width="0.15" textLength="68.0" lengthAdjust="spacingAndGlyphs" shape-rendering="auto">RSI(14) 63.8134</text><line x1="6" y1="561.5" x2="1597" y2="561.5" stroke="#c0c0c0" stroke-width="1" stroke-dasharray="3,3"/><line x1="6" y1="597.5" x2="1597" y2="597.5" stroke="#c0c0c0" stroke-width="1" stroke-dasharray="3,3"/><g clip-path="url(#cr)"><polyline points="5.5,585.5 13.5,585.5 21.5,587.5 29.5,589.5 37.5,592.5 45.5,589.5 53.5,593.5 61.5,594.5 69.5,602.5 77.5,602.5 85.5,604.5 93.5,606.5 101.5,607.5 109.5,607.5 117.5,607.5 125.5,596.5 133.5,591.5 141.5,593.5 149.5,599.5 157.5,600.5 165.5,599.5 173.5,588.5 181.5,584.5 189.5,586.5 197.5,588.5 205.5,590.5 213.5,588.5 221.5,591.5 229.5,594.5 237.5,599.5 245.5,597.5 253.5,598.5 261.5,599.5 269.5,601.5 277.5,605.5 285.5,599.5 293.5,607.5 301.5,595.5 309.5,596.5 317.5,582.5 325.5,583.5 333.5,584.5 341.5,581.5 349.5,580.5 357.5,578.5 365.5,594.5 373.5,589.5 381.5,600.5 389.5,604.5 397.5,604.5 405.5,605.5 413.5,608.5 421.5,611.5 429.5,608.5 437.5,608.5 445.5,609.5 453.5,610.5 461.5,596.5 469.5,594.5 477.5,588.5 485.5,584.5 493.5,580.5 501.5,583.5 509.5,583.5 517.5,585.5 525.5,587.5 533.5,590.5 541.5,590.5 549.5,583.5 557.5,578.5 565.5,576.5 573.5,572.5 581.5,570.5 589.5,570.5 597.5,568.5 605.5,567.5 613.5,573.5 621.5,575.5 629.5,572.5 637.5,573.5 645.5,571.5 653.5,579.5 661.5,576.5 669.5,572.5 677.5,573.5 685.5,573.5 693.5,568.5 701.5,567.5 709.5,565.5 717.5,566.5 725.5,575.5 733.5,576.5 741.5,576.5 749.5,572.5 757.5,576.5 765.5,571.5 773.5,568.5 781.5,570.5 789.5,575.5 797.5,572.5 805.5,576.5 813.5,580.5 821.5,580.5 829.5,579.5 837.5,573.5 845.5,569.5 853.5,567.5 861.5,571.5 869.5,574.5 877.5,574.5 885.5,573.5 893.5,567.5 901.5,572.5 909.5,567.5 917.5,570.5 925.5,568.5 933.5,562.5 941.5,559.5 949.5,557.5 957.5,557.5 965.5,556.5 973.5,558.5 981.5,557.5 989.5,560.5 997.5,559.5 1005.5,569.5 1013.5,572.5 1021.5,573.5 1029.5,572.5 1037.5,570.5 1045.5,570.5 1053.5,575.5 1061.5,574.5 1069.5,575.5 1077.5,570.5 1085.5,567.5 1093.5,575.5 1101.5,576.5 1109.5,576.5 1117.5,576.5 1125.5,577.5 1133.5,574.5 1141.5,571.5 1149.5,571.5 1157.5,569.5 1165.5,569.5 1173.5,567.5 1181.5,567.5 1189.5,568.5 1197.5,569.5 1205.5,569.5 1213.5,571.5 1221.5,567.5 1229.5,570.5 1237.5,566.5 1245.5,566.5 1253.5,569.5 1261.5,567.5" fill="none" stroke="#1e90ff" stroke-width="1" /></g><text x="1602" y="544.6" font-family="'Liberation Sans', sans-serif" font-size="10" fill="#000" stroke="#000" stroke-width="0.15" textLength="15.0" lengthAdjust="spacingAndGlyphs" shape-rendering="auto">100</text><text x="1602" y="565.6" font-family="'Liberation Sans', sans-serif" font-size="10" fill="#000" stroke="#000" stroke-width="0.15" textLength="10.0" lengthAdjust="spacingAndGlyphs" shape-rendering="auto">70</text><text x="1602" y="601.6" font-family="'Liberation Sans', sans-serif" font-size="10" fill="#000" stroke="#000" stroke-width="0.15" textLength="10.0" lengthAdjust="spacingAndGlyphs" shape-rendering="auto">30</text><text x="1602" y="622.6" font-family="'Liberation Sans', sans-serif" font-size="10" fill="#000" stroke="#000" stroke-width="0.15" textLength="5.0" lengthAdjust="spacingAndGlyphs" shape-rendering="auto">0</text><text x="9" y="640" font-family="'Liberation Sans', sans-serif" font-size="10" fill="#000" stroke="#000" stroke-width="0.15" textLength="148.0" lengthAdjust="spacingAndGlyphs" shape-rendering="auto">MACD(12,26,9) 0.004053 0.004122</text><g clip-path="url(#cd)"><rect x="5" y="664" width="1" height="1" fill="#c0c0c0"/><rect x="13" y="664" width="1" height="1" fill="#c0c0c0"/><rect x="21" y="664" width="1" height="2" fill="#c0c0c0"/><rect x="29" y="664" width="1" height="2" fill="#c0c0c0"/><rect x="37" y="664" width="1" height="3" fill="#c0c0c0"/><rect x="45" y="664" width="1" height="3" fill="#c0c0c0"/><rect x="53" y="664" width="1" height="3" fill="#c0c0c0"/><rect x="61" y="664" width="1" height="4" fill="#c0c0c0"/><rect x="69" y="664" width="1" height="5" fill="#c0c0c0"/><rect x="77" y="664" width="1" height="7" fill="#c0c0c0"/><rect x="85" y="664" width="1" height="8" fill="#c0c0c0"/><rect x="93" y="664" width="1" height="9" fill="#c0c0c0"/><rect x="101" y="664" width="1" height="11" fill="#c0c0c0"/><rect x="109" y="664" width="1" height="11" fill="#c0c0c0"/><rect x="117" y="664" width="1" height="12" fill="#c0c0c0"/><rect x="125" y="664" width="1" height="12" fill="#c0c0c0"/><rect x="133" y="664" width="1" height="11" fill="#c0c0c0"/><rect x="141" y="664" width="1" height="11" fill="#c0c0c0"/><rect x="149" y="664" width="1" height="11" fill="#c0c0c0"/><rect x="157" y="664" width="1" height="11" fill="#c0c0c0"/><rect x="165" y="664" width="1" height="12" fill="#c0c0c0"/><rect x="173" y="664" width="1" height="11" fill="#c0c0c0"/><rect x="181" y="664" width="1" height="10" fill="#c0c0c0"/><rect x="189" y="664" width="1" height="9" fill="#c0c0c0"/><rect x="197" y="664" width="1" height="9" fill="#c0c0c0"/><rect x="205" y="664" width="1" height="8" fill="#c0c0c0"/><rect x="213" y="664" width="1" height="8" fill="#c0c0c0"/><rect x="221" y="664" width="1" height="8" fill="#c0c0c0"/><rect x="229" y="664" width="1" height="8" fill="#c0c0c0"/><rect x="237" y="664" width="1" height="9" fill="#c0c0c0"/><rect x="245" y="664" width="1" height="10" fill="#c0c0c0"/><rect x="253" y="664" width="1" height="10" fill="#c0c0c0"/><rect x="261" y="664" width="1" height="11" fill="#c0c0c0"/><rect x="269" y="664" width="1" height="11" fill="#c0c0c0"/><rect x="277" y="664" width="1" height="12" fill="#c0c0c0"/><rect x="285" y="664" width="1" height="13" fill="#c0c0c0"/><rect x="293" y="664" width="1" height="15" fill="#c0c0c0"/><rect x="301" y="664" width="1" height="16" fill="#c0c0c0"/><rect x="309" y="664" width="1" height="16" fill="#c0c0c0"/><rect x="317" y="664" width="1" height="14" fill="#c0c0c0"/><rect x="325" y="664" width="1" height="13" fill="#c0c0c0"/><rect x="333" y="664" width="1" height="12" fill="#c0c0c0"/><rect x="341" y="664" width="1" height="10" fill="#c0c0c0"/><rect x="349" y="664" width="1" height="9" fill="#c0c0c0"/><rect x="357" y="664" width="1" height="7" fill="#c0c0c0"/><rect x="365" y="664" width="1" height="9" fill="#c0c0c0"/><rect x="373" y="664" width="1" height="10" fill="#c0c0c0"/><rect x="381" y="664" width="1" height="15" fill="#c0c0c0"/><rect x="389" y="664" width="1" height="21" fill="#c0c0c0"/><rect x="397" y="664" width="1" height="25" fill="#c0c0c0"/><rect x="405" y="664" width="1" height="29" fill="#c0c0c0"/><rect x="413" y="664" width="1" height="34" fill="#c0c0c0"/><rect x="421" y="664" width="1" height="41" fill="#c0c0c0"/><rect x="429" y="664" width="1" height="45" fill="#c0c0c0"/><rect x="437" y="664" width="1" height="48" fill="#c0c0c0"/><rect x="445" y="664" width="1" height="50" fill="#c0c0c0"/><rect x="453" y="664" width="1" height="52" fill="#c0c0c0"/><rect x="461" y="664" width="1" height="50" fill="#c0c0c0"/><rect x="469" y="664" width="1" height="48" fill="#c0c0c0"/><rect x="477" y="664" width="1" height="44" fill="#c0c0c0"/><rect x="485" y="664" width="1" height="38" fill="#c0c0c0"/><rect x="493" y="664" width="1" height="33" fill="#c0c0c0"/><rect x="501" y="664" width="1" height="29" fill="#c0c0c0"/><rect x="509" y="664" width="1" height="25" fill="#c0c0c0"/><rect x="517" y="664" width="1" height="23" fill="#c0c0c0"/><rect x="525" y="664" width="1" height="22" fill="#c0c0c0"/><rect x="533" y="664" width="1" height="22" fill="#c0c0c0"/><rect x="541" y="664" width="1" height="22" fill="#c0c0c0"/><rect x="549" y="664" width="1" height="20" fill="#c0c0c0"/><rect x="557" y="664" width="1" height="16" fill="#c0c0c0"/><rect x="565" y="664" width="1" height="12" fill="#c0c0c0"/><rect x="573" y="664" width="1" height="8" fill="#c0c0c0"/><rect x="581" y="664" width="1" height="4" fill="#c0c0c0"/><rect x="589" y="663" width="1" height="2" fill="#c0c0c0"/><rect x="597" y="660" width="1" height="5" fill="#c0c0c0"/><rect x="605" y="657" width="1" height="8" fill="#c0c0c0"/><rect x="613" y="656" width="1" height="9" fill="#c0c0c0"/><rect x="621" y="656" width="1" height="9" fill="#c0c0c0"/><rect x="629" y="655" width="1" height="10" fill="#c0c0c0"/><rect x="637" y="655" width="1" height="10" fill="#c0c0c0"/><rect x="645" y="654" width="1" height="11" fill="#c0c0c0"/><rect x="653" y="655" width="1" height="10" fill="#c0c0c0"/><rect x="661" y="655" width="1" height="10" fill="#c0c0c0"/><rect x="669" y="655" width="1" height="10" fill="#c0c0c0"/><rect x="677" y="654" width="1" height="11" fill="#c0c0c0"/><rect x="685" y="654" width="1" height="11" fill="#c0c0c0"/><rect x="693" y="653" width="1" height="12" fill="#c0c0c0"/><rect x="701" y="651" width="1" height="14" fill="#c0c0c0"/><rect x="709" y="649" width="1" height="16" fill="#c0c0c0"/><rect x="717" y="648" width="1" height="17" fill="#c0c0c0"/><rect x="725" y="649" width="1" height="16" fill="#c0c0c0"/><rect x="733" y="651" width="1" height="14" fill="#c0c0c0"/><rect x="741" y="652" width="1" height="13" fill="#c0c0c0"/><rect x="749" y="652" width="1" height="13" fill="#c0c0c0"/><rect x="757" y="653" width="1" height="12" fill="#c0c0c0"/><rect x="765" y="652" width="1" height="13" fill="#c0c0c0"/><rect x="773" y="651" width="1" height="14" fill="#c0c0c0"/><rect x="781" y="651" width="1" height="14" fill="#c0c0c0"/><rect x="789" y="652" width="1" height="13" fill="#c0c0c0"/><rect x="797" y="652" width="1" height="13" fill="#c0c0c0"/><rect x="805" y="653" width="1" height="12" fill="#c0c0c0"/><rect x="813" y="655" width="1" height="10" fill="#c0c0c0"/><rect x="821" y="657" width="1" height="8" fill="#c0c0c0"/><rect x="829" y="658" width="1" height="7" fill="#c0c0c0"/><rect x="837" y="657" width="1" height="8" fill="#c0c0c0"/><rect x="845" y="656" width="1" height="9" fill="#c0c0c0"/><rect x="853" y="654" width="1" height="11" fill="#c0c0c0"/><rect x="861" y="654" width="1" height="11" fill="#c0c0c0"/><rect x="869" y="654" width="1" height="11" fill="#c0c0c0"/><rect x="877" y="654" width="1" height="11" fill="#c0c0c0"/><rect x="885" y="654" width="1" height="11" fill="#c0c0c0"/><rect x="893" y="653" width="1" height="12" fill="#c0c0c0"/><rect x="901" y="653" width="1" height="12" fill="#c0c0c0"/><rect x="909" y="652" width="1" height="13" fill="#c0c0c0"/><rect x="917" y="651" width="1" height="14" fill="#c0c0c0"/><rect x="925" y="651" width="1" height="14" fill="#c0c0c0"/><rect x="933" y="648" width="1" height="17" fill="#c0c0c0"/><rect x="941" y="645" width="1" height="20" fill="#c0c0c0"/><rect x="949" y="641" width="1" height="24" fill="#c0c0c0"/><rect x="957" y="638" width="1" height="27" fill="#c0c0c0"/><rect x="965" y="636" width="1" height="29" fill="#c0c0c0"/><rect x="973" y="635" width="1" height="30" fill="#c0c0c0"/><rect x="981" y="634" width="1" height="31" fill="#c0c0c0"/><rect x="989" y="634" width="1" height="31" fill="#c0c0c0"/><rect x="997" y="633" width="1" height="32" fill="#c0c0c0"/><rect x="1005" y="635" width="1" height="30" fill="#c0c0c0"/><rect x="1013" y="638" width="1" height="27" fill="#c0c0c0"/><rect x="1021" y="641" width="1" height="24" fill="#c0c0c0"/><rect x="1029" y="643" width="1" height="22" fill="#c0c0c0"/><rect x="1037" y="644" width="1" height="21" fill="#c0c0c0"/><rect x="1045" y="645" width="1" height="20" fill="#c0c0c0"/><rect x="1053" y="647" width="1" height="18" fill="#c0c0c0"/><rect x="1061" y="648" width="1" height="17" fill="#c0c0c0"/><rect x="1069" y="650" width="1" height="15" fill="#c0c0c0"/><rect x="1077" y="650" width="1" height="15" fill="#c0c0c0"/><rect x="1085" y="650" width="1" height="15" fill="#c0c0c0"/><rect x="1093" y="651" width="1" height="14" fill="#c0c0c0"/><rect x="1101" y="652" width="1" height="13" fill="#c0c0c0"/><rect x="1109" y="654" width="1" height="11" fill="#c0c0c0"/><rect x="1117" y="655" width="1" height="10" fill="#c0c0c0"/><rect x="1125" y="656" width="1" height="9" fill="#c0c0c0"/><rect x="1133" y="656" width="1" height="9" fill="#c0c0c0"/><rect x="1141" y="656" width="1" height="9" fill="#c0c0c0"/><rect x="1149" y="656" width="1" height="9" fill="#c0c0c0"/><rect x="1157" y="655" width="1" height="10" fill="#c0c0c0"/><rect x="1165" y="655" width="1" height="10" fill="#c0c0c0"/><rect x="1173" y="655" width="1" height="10" fill="#c0c0c0"/><rect x="1181" y="654" width="1" height="11" fill="#c0c0c0"/><rect x="1189" y="654" width="1" height="11" fill="#c0c0c0"/><rect x="1197" y="655" width="1" height="10" fill="#c0c0c0"/><rect x="1205" y="655" width="1" height="10" fill="#c0c0c0"/><rect x="1213" y="655" width="1" height="10" fill="#c0c0c0"/><rect x="1221" y="655" width="1" height="10" fill="#c0c0c0"/><rect x="1229" y="656" width="1" height="9" fill="#c0c0c0"/><rect x="1237" y="655" width="1" height="10" fill="#c0c0c0"/><rect x="1245" y="655" width="1" height="10" fill="#c0c0c0"/><rect x="1253" y="655" width="1" height="10" fill="#c0c0c0"/><rect x="1261" y="655" width="1" height="10" fill="#c0c0c0"/><polyline points="5.5,664.5 13.5,664.5 21.5,664.5 29.5,664.5 37.5,664.5 45.5,665.5 53.5,665.5 61.5,665.5 69.5,666.5 77.5,666.5 85.5,667.5 93.5,668.5 101.5,669.5 109.5,670.5 117.5,671.5 125.5,672.5 133.5,673.5 141.5,673.5 149.5,674.5 157.5,674.5 165.5,674.5 173.5,674.5 181.5,674.5 189.5,674.5 197.5,673.5 205.5,673.5 213.5,673.5 221.5,672.5 229.5,672.5 237.5,672.5 245.5,672.5 253.5,672.5 261.5,672.5 269.5,672.5 277.5,673.5 285.5,673.5 293.5,674.5 301.5,675.5 309.5,676.5 317.5,676.5 325.5,676.5 333.5,676.5 341.5,676.5 349.5,676.5 357.5,675.5 365.5,675.5 373.5,674.5 381.5,674.5 389.5,675.5 397.5,676.5 405.5,678.5 413.5,681.5 421.5,684.5 429.5,689.5 437.5,693.5 445.5,697.5 453.5,701.5 461.5,705.5 469.5,707.5 477.5,709.5 485.5,709.5 493.5,708.5 501.5,706.5 509.5,704.5 517.5,701.5 525.5,698.5 533.5,695.5 541.5,692.5 549.5,689.5 557.5,687.5 565.5,684.5 573.5,682.5 581.5,680.5 589.5,677.5 597.5,674.5 605.5,671.5 613.5,668.5 621.5,665.5 629.5,662.5 637.5,660.5 645.5,658.5 653.5,657.5 661.5,656.5 669.5,655.5 677.5,655.5 685.5,655.5 693.5,654.5 701.5,654.5 709.5,653.5 717.5,653.5 725.5,652.5 733.5,651.5 741.5,651.5 749.5,651.5 757.5,651.5 765.5,651.5 773.5,651.5 781.5,651.5 789.5,651.5 797.5,652.5 805.5,652.5 813.5,652.5 821.5,653.5 829.5,653.5 837.5,654.5 845.5,654.5 853.5,655.5 861.5,655.5 869.5,655.5 877.5,655.5 885.5,655.5 893.5,655.5 901.5,654.5 909.5,654.5 917.5,653.5 925.5,653.5 933.5,652.5 941.5,651.5 949.5,650.5 957.5,648.5 965.5,646.5 973.5,644.5 981.5,642.5 989.5,640.5 997.5,638.5 1005.5,637.5 1013.5,636.5 1021.5,636.5 1029.5,636.5 1037.5,637.5 1045.5,638.5 1053.5,640.5 1061.5,642.5 1069.5,643.5 1077.5,645.5 1085.5,646.5 1093.5,648.5 1101.5,649.5 1109.5,650.5 1117.5,651.5 1125.5,652.5 1133.5,653.5 1141.5,653.5 1149.5,654.5 1157.5,655.5 1165.5,655.5 1173.5,655.5 1181.5,655.5 1189.5,655.5 1197.5,655.5 1205.5,655.5 1213.5,655.5 1221.5,655.5 1229.5,655.5 1237.5,655.5 1245.5,655.5 1253.5,655.5 1261.5,655.5" fill="none" stroke="#ff0000" stroke-width="1" stroke-dasharray="3,3"/></g><rect x="1598" y="628" width="2" height="1" fill="#000"/><rect x="1598" y="664" width="2" height="1" fill="#000"/><rect x="1598" y="718" width="2" height="1" fill="#000"/><text x="1602" y="638.6" font-family="'Liberation Sans', sans-serif" font-size="10" fill="#000" stroke="#000" stroke-width="0.15" textLength="37.5" lengthAdjust="spacingAndGlyphs" shape-rendering="auto">0.015741</text><text x="1602" y="667.6" font-family="'Liberation Sans', sans-serif" font-size="10" fill="#000" stroke="#000" stroke-width="0.15" textLength="17.5" lengthAdjust="spacingAndGlyphs" shape-rendering="auto">0.00</text><text x="1602" y="715.6" font-family="'Liberation Sans', sans-serif" font-size="10" fill="#000" stroke="#000" stroke-width="0.15" textLength="35.5" lengthAdjust="spacingAndGlyphs" shape-rendering="auto">-0.02441</text><rect x="5" y="719" width="1" height="4" fill="#000"/><text x="4.5" y="731.8" font-family="'Liberation Sans', sans-serif" font-size="10" fill="#000" stroke="#000" stroke-width="0.15" textLength="49.8" lengthAdjust="spacingAndGlyphs" shape-rendering="auto">17 Jan 2020</text><rect x="69" y="719" width="1" height="4" fill="#000"/><text x="68.5" y="731.8" font-family="'Liberation Sans', sans-serif" font-size="10" fill="#000" stroke="#000" stroke-width="0.15" textLength="49.8" lengthAdjust="spacingAndGlyphs" shape-rendering="auto">27 Jan 2020</text><rect x="133" y="719" width="1" height="4" fill="#000"/><text x="132.5" y="731.8" font-family="'Liberation Sans', sans-serif" font-size="10" fill="#000" stroke="#000" stroke-width="0.15" textLength="45.8" lengthAdjust="spacingAndGlyphs" shape-rendering="auto">5 Feb 2020</text><rect x="197" y="719" width="1" height="4" fill="#000"/><text x="196.5" y="731.8" font-family="'Liberation Sans', sans-serif" font-size="10" fill="#000" stroke="#000" stroke-width="0.15" textLength="50.8" lengthAdjust="spacingAndGlyphs" shape-rendering="auto">14 Feb 2020</text><rect x="261" y="719" width="1" height="4" fill="#000"/><text x="260.5" y="731.8" font-family="'Liberation Sans', sans-serif" font-size="10" fill="#000" stroke="#000" stroke-width="0.15" textLength="50.8" lengthAdjust="spacingAndGlyphs" shape-rendering="auto">24 Feb 2020</text><rect x="325" y="719" width="1" height="4" fill="#000"/><text x="324.5" y="731.8" font-family="'Liberation Sans', sans-serif" font-size="10" fill="#000" stroke="#000" stroke-width="0.15" textLength="45.8" lengthAdjust="spacingAndGlyphs" shape-rendering="auto">4 Mar 2020</text><rect x="389" y="719" width="1" height="4" fill="#000"/><text x="388.5" y="731.8" font-family="'Liberation Sans', sans-serif" font-size="10" fill="#000" stroke="#000" stroke-width="0.15" textLength="50.8" lengthAdjust="spacingAndGlyphs" shape-rendering="auto">13 Mar 2020</text><rect x="453" y="719" width="1" height="4" fill="#000"/><text x="452.5" y="731.8" font-family="'Liberation Sans', sans-serif" font-size="10" fill="#000" stroke="#000" stroke-width="0.15" textLength="50.8" lengthAdjust="spacingAndGlyphs" shape-rendering="auto">23 Mar 2020</text><rect x="517" y="719" width="1" height="4" fill="#000"/><text x="516.5" y="731.8" font-family="'Liberation Sans', sans-serif" font-size="10" fill="#000" stroke="#000" stroke-width="0.15" textLength="43.8" lengthAdjust="spacingAndGlyphs" shape-rendering="auto">1 Apr 2020</text><rect x="581" y="719" width="1" height="4" fill="#000"/><text x="580.5" y="731.8" font-family="'Liberation Sans', sans-serif" font-size="10" fill="#000" stroke="#000" stroke-width="0.15" textLength="48.8" lengthAdjust="spacingAndGlyphs" shape-rendering="auto">10 Apr 2020</text><rect x="645" y="719" width="1" height="4" fill="#000"/><text x="644.5" y="731.8" font-family="'Liberation Sans', sans-serif" font-size="10" fill="#000" stroke="#000" stroke-width="0.15" textLength="48.8" lengthAdjust="spacingAndGlyphs" shape-rendering="auto">20 Apr 2020</text><rect x="709" y="719" width="1" height="4" fill="#000"/><text x="708.5" y="731.8" font-family="'Liberation Sans', sans-serif" font-size="10" fill="#000" stroke="#000" stroke-width="0.15" textLength="48.8" lengthAdjust="spacingAndGlyphs" shape-rendering="auto">29 Apr 2020</text><rect x="773" y="719" width="1" height="4" fill="#000"/><text x="772.5" y="731.8" font-family="'Liberation Sans', sans-serif" font-size="10" fill="#000" stroke="#000" stroke-width="0.15" textLength="47.3" lengthAdjust="spacingAndGlyphs" shape-rendering="auto">8 May 2020</text><rect x="837" y="719" width="1" height="4" fill="#000"/><text x="836.5" y="731.8" font-family="'Liberation Sans', sans-serif" font-size="10" fill="#000" stroke="#000" stroke-width="0.15" textLength="52.3" lengthAdjust="spacingAndGlyphs" shape-rendering="auto">18 May 2020</text><rect x="901" y="719" width="1" height="4" fill="#000"/><text x="900.5" y="731.8" font-family="'Liberation Sans', sans-serif" font-size="10" fill="#000" stroke="#000" stroke-width="0.15" textLength="52.3" lengthAdjust="spacingAndGlyphs" shape-rendering="auto">27 May 2020</text><rect x="965" y="719" width="1" height="4" fill="#000"/><text x="964.5" y="731.8" font-family="'Liberation Sans', sans-serif" font-size="10" fill="#000" stroke="#000" stroke-width="0.15" textLength="44.8" lengthAdjust="spacingAndGlyphs" shape-rendering="auto">5 Jun 2020</text><rect x="1029" y="719" width="1" height="4" fill="#000"/><text x="1028.5" y="731.8" font-family="'Liberation Sans', sans-serif" font-size="10" fill="#000" stroke="#000" stroke-width="0.15" textLength="49.8" lengthAdjust="spacingAndGlyphs" shape-rendering="auto">15 Jun 2020</text><rect x="1093" y="719" width="1" height="4" fill="#000"/><text x="1092.5" y="731.8" font-family="'Liberation Sans', sans-serif" font-size="10" fill="#000" stroke="#000" stroke-width="0.15" textLength="49.8" lengthAdjust="spacingAndGlyphs" shape-rendering="auto">24 Jun 2020</text><rect x="1157" y="719" width="1" height="4" fill="#000"/><text x="1156.5" y="731.8" font-family="'Liberation Sans', sans-serif" font-size="10" fill="#000" stroke="#000" stroke-width="0.15" textLength="41.8" lengthAdjust="spacingAndGlyphs" shape-rendering="auto">3 Jul 2020</text><rect x="1221" y="719" width="1" height="4" fill="#000"/><text x="1220.5" y="731.8" font-family="'Liberation Sans', sans-serif" font-size="10" fill="#000" stroke="#000" stroke-width="0.15" textLength="46.8" lengthAdjust="spacingAndGlyphs" shape-rendering="auto">13 Jul 2020</text><rect x="0" y="740" width="1636" height="1" fill="#e8e8e8"/><rect x="0" y="741" width="1636" height="1" fill="#ffffff"/><rect x="0" y="742" width="1636" height="1" fill="#000"/><rect x="0" y="743" width="1636" height="1" fill="#ffffff"/><rect x="0" y="744" width="1636" height="21" fill="#f0f0f0"/><rect x="0" y="762" width="1636" height="1" fill="#ffffff"/><rect x="0" y="742" width="1" height="20" fill="#a0a0a0"/><rect x="1" y="742" width="1" height="20" fill="#808080"/><rect x="210" y="741" width="104" height="20" fill="#fff"/><rect x="210" y="742" width="1" height="19" fill="#000"/><rect x="313" y="742" width="1" height="19" fill="#000"/><rect x="210" y="760" width="104" height="1" fill="#000"/><text x="18.5" y="756.5" font-family="'Liberation Sans', sans-serif" font-size="12" fill="#6d6d6d" stroke="#6d6d6d" stroke-width="0.1" textLength="79.2" lengthAdjust="spacingAndGlyphs" shape-rendering="auto">EURUSD,Daily</text><text x="120.3" y="756.5" font-family="'Liberation Sans', sans-serif" font-size="12" fill="#6d6d6d" stroke="#6d6d6d" stroke-width="0.1" textLength="78.7" lengthAdjust="spacingAndGlyphs" shape-rendering="auto">USDCHF,Daily</text><text x="221" y="756.5" font-family="'Liberation Sans', sans-serif" font-size="12" fill="#000" stroke="#000" stroke-width="0.1" textLength="82.8" lengthAdjust="spacingAndGlyphs" shape-rendering="auto">AUDUSD,Daily</text><text x="324.8" y="756.5" font-family="'Liberation Sans', sans-serif" font-size="12" fill="#6d6d6d" stroke="#6d6d6d" stroke-width="0.1" textLength="81.2" lengthAdjust="spacingAndGlyphs" shape-rendering="auto">USDCAD,Daily</text><text x="428.6" y="756.5" font-family="'Liberation Sans', sans-serif" font-size="12" fill="#6d6d6d" stroke="#6d6d6d" stroke-width="0.1" textLength="82.7" lengthAdjust="spacingAndGlyphs" shape-rendering="auto">USDCNH,Daily</text><text x="532.8" y="756.5" font-family="'Liberation Sans', sans-serif" font-size="12" fill="#6d6d6d" stroke="#6d6d6d" stroke-width="0.1" textLength="77.7" lengthAdjust="spacingAndGlyphs" shape-rendering="auto">EURUSD,M15</text><text x="632.6" y="756.5" font-family="'Liberation Sans', sans-serif" font-size="12" fill="#6d6d6d" stroke="#6d6d6d" stroke-width="0.1" textLength="78.2" lengthAdjust="spacingAndGlyphs" shape-rendering="auto">GBPUSD,M30</text><text x="732.8" y="756.5" font-family="'Liberation Sans', sans-serif" font-size="12" fill="#6d6d6d" stroke="#6d6d6d" stroke-width="0.1" textLength="81.7" lengthAdjust="spacingAndGlyphs" shape-rendering="auto">XAUUSD,Daily</text><text x="837.2" y="756.5" font-family="'Liberation Sans', sans-serif" font-size="12" fill="#6d6d6d" stroke="#6d6d6d" stroke-width="0.1" textLength="49.6" lengthAdjust="spacingAndGlyphs" shape-rendering="auto">HK50,H1</text><text x="909" y="756.5" font-family="'Liberation Sans', sans-serif" font-size="12" fill="#6d6d6d" stroke="#6d6d6d" stroke-width="0.1" textLength="56.6" lengthAdjust="spacingAndGlyphs" shape-rendering="auto">UK100,H1</text><text x="989.5" y="756.5" font-family="'Liberation Sans', sans-serif" font-size="12" fill="#6d6d6d" stroke="#6d6d6d" stroke-width="0.1" textLength="56.5" lengthAdjust="spacingAndGlyphs" shape-rendering="auto">UK100,H1</text><text x="1069" y="756.5" font-family="'Liberation Sans', sans-serif" font-size="12" fill="#6d6d6d" stroke="#6d6d6d" stroke-width="0.1" textLength="56.5" lengthAdjust="spacingAndGlyphs" shape-rendering="auto">GER30,H1</text><text x="1147.9" y="756.5" font-family="'Liberation Sans', sans-serif" font-size="12" fill="#6d6d6d" stroke="#6d6d6d" stroke-width="0.1" textLength="54.7" lengthAdjust="spacingAndGlyphs" shape-rendering="auto">FRA40,H1</text><text x="1224.2" y="756.5" font-family="'Liberation Sans', sans-serif" font-size="12" fill="#6d6d6d" stroke="#6d6d6d" stroke-width="0.1" textLength="62.4" lengthAdjust="spacingAndGlyphs" shape-rendering="auto">USOil,Daily</text><text x="1308" y="756.5" font-family="'Liberation Sans', sans-serif" font-size="12" fill="#6d6d6d" stroke="#6d6d6d" stroke-width="0.1" textLength="62.6" lengthAdjust="spacingAndGlyphs" shape-rendering="auto">USDJPY,H1</text><text x="1393" y="756.5" font-family="'Liberation Sans', sans-serif" font-size="12" fill="#6d6d6d" stroke="#6d6d6d" stroke-width="0.1" textLength="56.6" lengthAdjust="spacingAndGlyphs" shape-rendering="auto">DJ30,M15</text><text x="1472.2" y="756.5" font-family="'Liberation Sans', sans-serif" font-size="12" fill="#6d6d6d" stroke="#6d6d6d" stroke-width="0.1" textLength="78.8" lengthAdjust="spacingAndGlyphs" shape-rendering="auto">CHINA300,H4</text><rect x="110" y="745" width="1" height="14" fill="#707070"/><rect x="418" y="745" width="1" height="14" fill="#707070"/><rect x="522" y="745" width="1" height="14" fill="#707070"/><rect x="622" y="745" width="1" height="14" fill="#707070"/><rect x="723" y="745" width="1" height="14" fill="#707070"/><rect x="827" y="745" width="1" height="14" fill="#707070"/><rect x="899" y="745" width="1" height="14" fill="#707070"/><rect x="978" y="745" width="1" height="14" fill="#707070"/><rect x="1058" y="745" width="1" height="14" fill="#707070"/><rect x="1139" y="745" width="1" height="14" fill="#707070"/><rect x="1215" y="745" width="1" height="14" fill="#707070"/><rect x="1299" y="745" width="1" height="14" fill="#707070"/><rect x="1383" y="745" width="1" height="14" fill="#707070"/><rect x="1462" y="745" width="1" height="14" fill="#707070"/><rect x="1563" y="745" width="1" height="14" fill="#707070"/><path d="M1616.5 748 L1616.5 754.5 L1613 751.2 Z" fill="#a0a0a0" shape-rendering="geometricPrecision"/><path d="M1632 748 L1632 754.5 L1635.5 751.2 Z" fill="#909090" shape-rendering="geometricPrecision"/></svg>
</body></html>
